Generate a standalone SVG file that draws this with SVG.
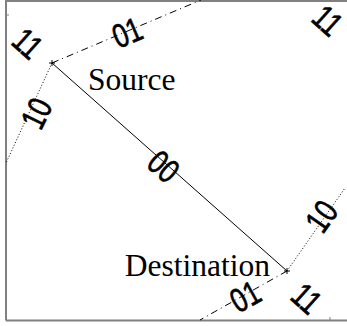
<svg xmlns="http://www.w3.org/2000/svg" width="347" height="326" viewBox="0 0 347 326">
<style>
.frame{stroke:#808080;stroke-width:2;fill:none}
.lbl{font-family:"Liberation Sans",Arial,sans-serif;font-size:26px;text-anchor:middle;fill:#000;stroke:#000;stroke-width:0.5}
.name{font-family:"Liberation Serif","Times New Roman",serif;font-size:31.5px;fill:#000}
.solid{stroke:#000;stroke-width:1;fill:none}
.dot{stroke:#000;stroke-width:1;fill:none;stroke-dasharray:1 2}
.dashdot{stroke:#000;stroke-width:1;fill:none;stroke-dasharray:7 4 1 4}
.mk{stroke:#000;stroke-width:1;fill:none}
</style>
<rect width="347" height="326" fill="#fff"/>
<g id="frame">
<path class="frame" d="M6,320.5 V1 H347 M6,320.5 H347"/>
<path stroke="#808080" stroke-width="1" d="M6,15 h3 M330,320 v-3"/>
</g>
<g id="connectors">
<line class="solid" x1="52" y1="63" x2="287" y2="271"/>
<line class="dashdot" x1="52" y1="63" x2="201" y2="0"/>
<line class="dot" x1="52" y1="63" x2="6" y2="163"/>
<line class="dot" x1="287" y1="271" x2="345" y2="188"/>
<line class="dashdot" x1="287" y1="271" x2="200" y2="320"/>
</g>
<g id="labels">
<text class="lbl" x="0" y="9.5" transform="translate(164,166) rotate(41.6) scale(1,1.3)">00</text>
<text class="lbl" x="0" y="9.5" transform="translate(28,43) rotate(42) scale(1,1.3)">11</text>
<text class="lbl" x="0" y="9.5" transform="translate(127,32) rotate(-23) scale(1,1.3)">01</text>
<text class="lbl" x="0" y="9.5" transform="translate(328,20) rotate(42) scale(1,1.3)">11</text>
<text class="lbl" x="0" y="9.5" transform="translate(36,113) rotate(-64) scale(1,1.3)">10</text>
<text class="lbl" x="0" y="9.5" transform="translate(321,216) rotate(-55) scale(1,1.3)">10</text>
<text class="lbl" x="0" y="9.5" transform="translate(245,296) rotate(-29) scale(1,1.3)">01</text>
<text class="lbl" x="0" y="9.5" transform="translate(307,298) rotate(42) scale(1,1.3)">11</text>
</g>
<g id="source">
<path class="mk" d="M49,63 h6 M52,60 v6"/>
<text class="name" x="88" y="90">Source</text>
</g>
<g id="destination">
<path class="mk" d="M284,271 h6 M287,268 v6"/>
<text class="name" x="270" y="276" text-anchor="end">Destination</text>
</g>
</svg>
